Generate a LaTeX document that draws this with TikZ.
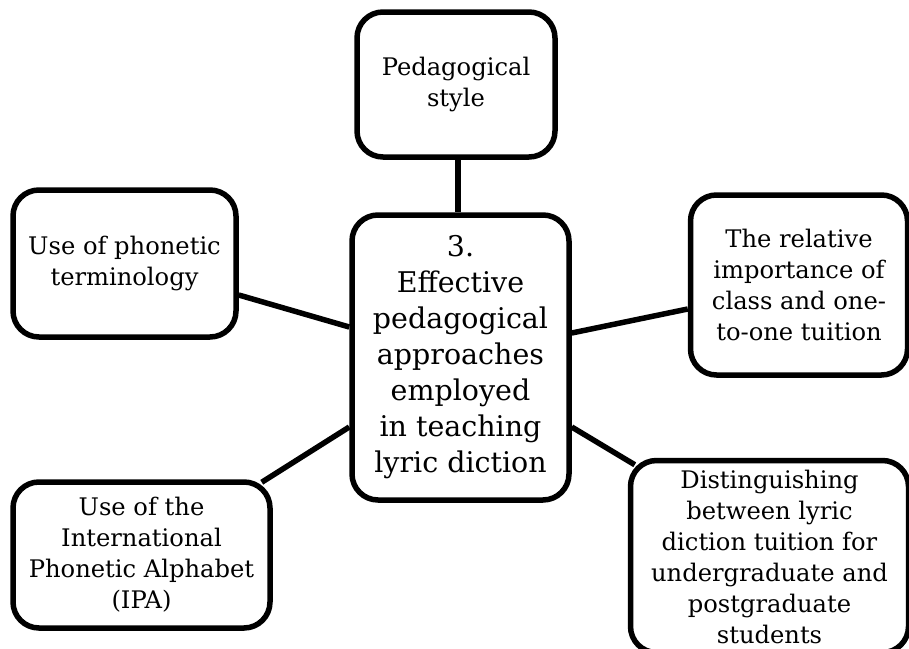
\documentclass[tikz,border=0pt]{standalone}
\usepackage{fontspec}
\setmainfont{DejaVu Serif}
\begin{document}
\begin{tikzpicture}[x=1pt,y=-1pt,
  box/.style={draw=black, line width=5.5pt, rounded corners=26pt, fill=white, inner sep=0pt, align=center, font=\fontsize{24.2}{31}\selectfont},
  bigbox/.style={box, font=\fontsize{28.5}{36}\selectfont},
  link/.style={line width=5.5pt}]
\clip (0,0) rectangle (909,648);
\fill[white] (0,0) rectangle (909,648);
\node[bigbox, minimum width=217pt, minimum height=285pt] (ctr) at (460.5,357.5) {3.\\Effective\\pedagogical\\approaches\\employed\\in teaching\\lyric diction};
\node[box, minimum width=198pt, minimum height=145pt] (top) at (456,84.5) {Pedagogical\\style};
\node[box, minimum width=217pt, minimum height=180pt] (rt) at (799,285) {The relative\\importance of\\class and one-\\to-one tuition};
\node[box, minimum width=223pt, minimum height=147pt] (lt) at (124.5,263.5) {Use of phonetic\\terminology};
\node[box, minimum width=257pt, minimum height=146pt] (lb) at (141.5,555) {Use of the\\International\\Phonetic Alphabet\\(IPA)};
\node[box, minimum width=278pt, minimum height=192pt] (br) at (769.5,556.5) {Distinguishing\\between lyric\\diction tuition for\\undergraduate and\\postgraduate\\students};
\draw[link] ([xshift=2pt]top.south) -- ([xshift=2pt]top.south |- ctr.north);
\draw[link] ([yshift=-31.5pt]lt.east) -- ([yshift=30.5pt]ctr.west);
\draw[link] ([xshift=-11pt,yshift=-3pt]lb.north east) -- ([yshift=-69.5pt]ctr.west);
\draw[link] ([yshift=24.5pt]ctr.east) -- ([yshift=-24pt]rt.west);
\draw[link] ([yshift=-69.5pt]ctr.east) -- ([xshift=7pt,yshift=-7pt]br.north west);
\end{tikzpicture}
\end{document}
